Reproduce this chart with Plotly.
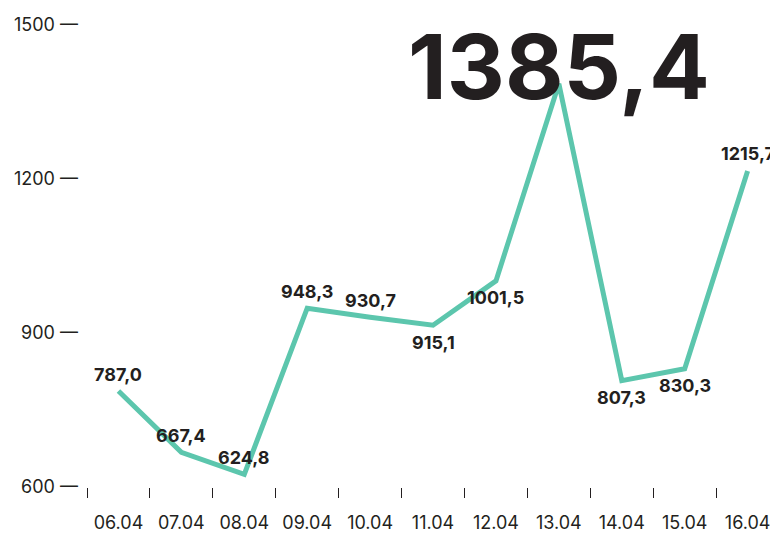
import plotly.graph_objects as go

dates = ["06.04", "07.04", "08.04", "09.04", "10.04", "11.04", "12.04", "13.04", "14.04", "15.04", "16.04"]
values = [787.0, 667.4, 624.8, 948.3, 930.7, 915.1, 1001.5, 1385.4, 807.3, 830.3, 1215.7]
y_ticks = [600, 900, 1200, 1500]
peak_index = 7

# label placement (style): 1 = above, -1 = below, 0 = big peak label
label_side = [1, 1, 1, 1, 1, -1, -1, 0, -1, -1, 1]

LINE = "#5cc6ad"
INK = "#231f20"
FONT = "Inter"

def fmt(v):
    return f"{v:.1f}".replace(".", ",")

fig = go.Figure()
fig.add_trace(go.Scatter(
    x=dates, y=values, mode="lines",
    line=dict(color=LINE, width=5), hoverinfo="skip", cliponaxis=False,
))

for i, (v, s) in enumerate(zip(values, label_side)):
    if s == 0:
        continue
    fig.add_annotation(
        x=i, y=v, text=f"<b>{fmt(v)}</b>", showarrow=False,
        yshift=17 * s, font=dict(family=FONT, size=18, color=INK),
        xanchor="center", yanchor="middle",
    )

fig.add_annotation(
    x=peak_index, y=values[peak_index], text=f"<b>{fmt(values[peak_index])}</b>",
    showarrow=False, yshift=-39, yanchor="bottom", xanchor="center",
    font=dict(family=FONT, size=90, color=INK),
)

fig.update_layout(
    width=770, height=533,
    margin=dict(l=87, r=0, t=25, b=43),
    paper_bgcolor="white", plot_bgcolor="white",
    showlegend=False,
    font=dict(family=FONT, color=INK),
)
fig.update_xaxes(
    type="category", range=[-0.5, 10.34],
    tickson="boundaries", ticks="outside", ticklen=10, tickwidth=1, tickcolor=INK,
    showline=False, showgrid=False, zeroline=False,
    tickfont=dict(family=FONT, size=18, color=INK), ticklabelstandoff=23,
)
fig.update_yaxes(
    range=[600, 1500], tickvals=y_ticks, ticktext=[f"{t} —" for t in y_ticks],
    showline=False, showgrid=False, zeroline=False, ticks="",
    tickfont=dict(family=FONT, size=18, color=INK), ticklabelstandoff=8,
)

fig.write_html("out.html", config={"displayModeBar": False},
               post_script="document.body.style.margin='0';")
